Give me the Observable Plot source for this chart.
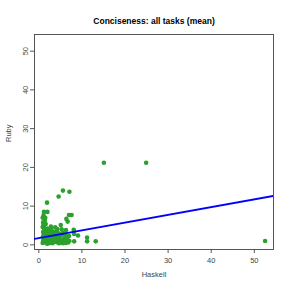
<!DOCTYPE html>
<html><head><meta charset="utf-8">
<script src="https://cdn.jsdelivr.net/npm/d3@7"></script>
<script src="https://cdn.jsdelivr.net/npm/@observablehq/plot@0.6"></script>
<style>
body{margin:0;background:#fff;}
svg{display:block;font-family:"Liberation Sans",Arial,sans-serif;}
</style></head><body>
<div id="chart"></div>
<script>
const title = "Conciseness: all tasks (mean)";
const xLabel = "Haskell";
const yLabel = "Ruby";
const xTicks = [0, 10, 20, 30, 40, 50];
const yTicks = [0, 10, 20, 30, 40, 50];
const haskell = [15.1,24.9,52.5,5.6,7.1,4.6,1.9,1.2,2.0,1.1,1.5,7.0,7.6,6.4,6.7,1.0,5.1,5.3,8.1,9.1,11.2,11.2,13.2,8.2,7.1,8.2,7.0,2.8,3.8,1.2,1.6,3.0,4.3,6.3,5.9,
 0.9,1.0,1.1,1.0,1.2,1.0,1.4,1.6,1.5,1.8,1.7,2.0,2.2,2.1,2.4,2.5,2.7,2.9,3.1,3.3,3.4,3.6,3.8,4.0,4.1,4.4,4.6,4.8,5.0,5.2,5.4,5.7,6.0,6.3,6.6,1.3,2.3,2.0,3.5,4.5,1.1,1.4,0.9,1.2,2.6,3.2,4.2,
 1.8,2.9,3.7,4.9,5.5,6.1,6.8,2.4,3.9,5.6,6.2,1.3,1.9,4.7,0.9,1.6];
const ruby = [21.2,21.2,1.0,14.0,13.7,12.5,10.9,8.5,8.5,7.6,7.0,7.7,7.7,6.7,6.0,5.8,5.1,4.0,3.9,2.4,1.9,0.9,0.9,0.9,1.0,2.8,2.3,4.7,4.5,4.5,3.6,3.2,4.1,3.8,1.2,
 0.5,1.0,1.6,2.2,2.8,3.3,0.7,1.3,2.0,2.6,3.0,0.5,1.1,1.8,2.3,0.8,1.5,2.0,0.6,1.2,2.4,1.7,0.8,1.4,2.2,0.6,1.1,1.8,0.7,2.6,1.4,0.8,2.0,1.0,1.6,4.0,3.7,4.2,3.3,3.0,5.2,6.3,7.0,1.9,2.9,0.4,3.5,
 3.6,3.9,2.8,2.5,3.1,2.7,0.6,0.4,3.2,0.4,0.5,1.4,0.3,0.4,4.6,5.4];
const fitIntercept = 1.74;
const fitSlope = 0.2;
const xDomain = [-1.0, 54.45];
const yDomain = [-1.2, 54.3];

const pts = haskell.map((h, i) => ({h, r: ruby[i]}));
const fit = xDomain.map(x => ({x, y: fitIntercept + fitSlope * x}));

const chart = Plot.plot({
  width: 291, height: 291,
  marginLeft: 34, marginRight: 18, marginTop: 34, marginBottom: 42,
  style: {fontFamily: "Liberation Sans, Arial, sans-serif", fontSize: "7.5px", color: "#444"},
  x: {domain: xDomain},
  y: {domain: yDomain},
  marks: [
    Plot.frame({stroke: "#555", strokeWidth: 1}),
    Plot.axisX({ticks: xTicks, tickSize: 4, tickPadding: 4, label: null, stroke: "#555"}),
    Plot.axisY({ticks: yTicks, tickSize: 4, tickPadding: 3, tickRotate: -90, label: null, stroke: "#555"}),
    Plot.dot(pts, {x: "h", y: "r", r: 2.3, fill: "#2ca02c", stroke: "none"}),
    Plot.line(fit, {x: "x", y: "y", stroke: "#0000ff", strokeWidth: 2, clip: true}),
    Plot.text([title], {frameAnchor: "top", dy: -17, text: d => d, fontWeight: "bold", fontSize: 8.5, fill: "#000"}),
    Plot.text([xLabel], {frameAnchor: "bottom", dy: 27, text: d => d, fontSize: 7.5, fill: "#444"}),
    Plot.text([yLabel], {frameAnchor: "left", dx: -26, rotate: -90, text: d => d, fontSize: 7.5, fill: "#444"})
  ]
});
document.getElementById("chart").appendChild(chart);
</script></body></html>
